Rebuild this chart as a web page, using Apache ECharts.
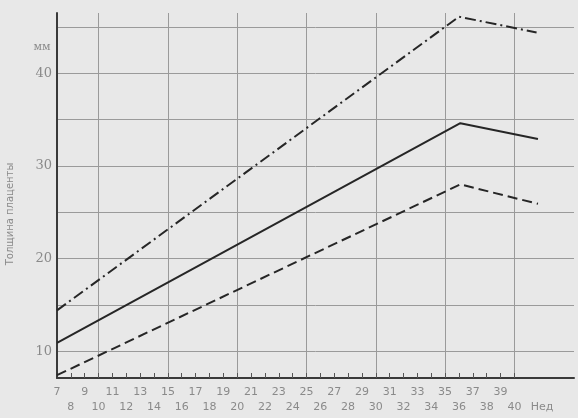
<!DOCTYPE html>
<html>
<head>
<meta charset="utf-8">
<script src="https://cdn.jsdelivr.net/npm/echarts@6/dist/echarts.min.js"></script>
<style>
  html, body { margin: 0; padding: 0; background: #e8e8e8; }
  #chart { width: 578px; height: 418px; }
</style>
</head>
<body>
<div id="chart"></div>
<script>
// Weeks of pregnancy (x) and placenta thickness in mm (y)
const upperWeeks = [7, 36.0, 41.6];
const upperValues = [14.4, 46.1, 44.4];   // dash-dot line
const meanWeeks = [7, 36.1, 41.7];
const meanValues = [10.9, 34.6, 32.9];    // solid line
const lowerWeeks = [7, 36.1, 41.7];
const lowerValues = [7.4, 28.0, 25.9];    // dashed line

const tickWeeks = [8,9,10,11,12,13,14,15,16,17,18,19,20,21,22,23,24,25,26,27,28,29,30,31,32,33,34,35,36,37,38,39,40];
const labelWeeks = [7,8,9,10,11,12,13,14,15,16,17,18,19,20,21,22,23,24,25,26,27,28,29,30,31,32,33,34,35,36,37,38,39,40,42];
const yLabels = [10, 20, 30, 40];
const unitWeek = 'Нед';
const unitMm = 'мм';
const yTitle = 'Толщина плаценты';

function pairs(xs, ys) { return xs.map((x, i) => [x, ys[i]]); }

const chart = echarts.init(document.getElementById('chart'));
const lineColor = '#262626';
const gridColor = '#9a9a9a';
const textColor = '#8a8a8a';

chart.setOption({
  backgroundColor: '#e8e8e8',
  animation: false,
  grid: { left: 57, right: 4, top: 13, bottom: 40, containLabel: false, outerBoundsMode: 'none' },
  xAxis: [
    {
      type: 'value', min: 7, max: 44.3, splitNumber: 8,
      axisLine: { show: true, lineStyle: { color: '#3a3a3a', width: 2 } },
      axisTick: { show: false },
      axisLabel: { show: false },
      splitLine: { show: true, showMinLine: false, showMaxLine: false, lineStyle: { color: gridColor, width: 1 } }
    },
    {
      type: 'value', min: 7, max: 44.3, interval: 1, position: 'bottom',
      axisLine: { show: false },
      axisTick: { show: true, inside: true, length: 5, customValues: tickWeeks, lineStyle: { color: '#555', width: 1 } },
      axisLabel: {
        show: true, customValues: labelWeeks, margin: 7,
        color: textColor, fontSize: 11, lineHeight: 15, fontFamily: 'DejaVu Sans',
        formatter: function (v) {
          if (v === 42) return '\n' + unitWeek;
          if (v > 40) return '';
          return (v % 2 === 1) ? String(v) : '\n' + v;
        }
      },
      splitLine: { show: false }
    }
  ],
  yAxis: {
    type: 'value', min: 7.1, max: 46.5, splitNumber: 8,
    axisLine: { show: true, lineStyle: { color: '#3a3a3a', width: 2 } },
    axisTick: { show: false },
    axisLabel: {
      color: textColor, fontSize: 13, margin: 5, fontFamily: 'DejaVu Serif',
      formatter: function (v) { return yLabels.indexOf(v) >= 0 ? String(v) : ''; }
    },
    splitLine: { show: true, showMinLine: false, showMaxLine: false, lineStyle: { color: gridColor, width: 1 } }
  },
  graphic: [
    {
      type: 'text', x: 42, y: 47,
      style: { text: unitMm, fill: textColor, font: '11px "DejaVu Serif"', textAlign: 'center', textVerticalAlign: 'middle' }
    },
    {
      type: 'text', x: 10, y: 214, rotation: Math.PI / 2,
      style: { text: yTitle, fill: textColor, font: '10px "DejaVu Sans"', textAlign: 'center', textVerticalAlign: 'middle' }
    }
  ],
  series: [
    {
      type: 'line', xAxisIndex: 0, showSymbol: false, data: pairs(upperWeeks, upperValues),
      lineStyle: { color: lineColor, width: 2, type: [11, 4, 2, 4] }
    },
    {
      type: 'line', xAxisIndex: 0, showSymbol: false, data: pairs(meanWeeks, meanValues),
      lineStyle: { color: lineColor, width: 2, type: 'solid' }
    },
    {
      type: 'line', xAxisIndex: 0, showSymbol: false, data: pairs(lowerWeeks, lowerValues),
      lineStyle: { color: lineColor, width: 2, type: [10, 5] }
    }
  ]
});
</script>
</body>
</html>
